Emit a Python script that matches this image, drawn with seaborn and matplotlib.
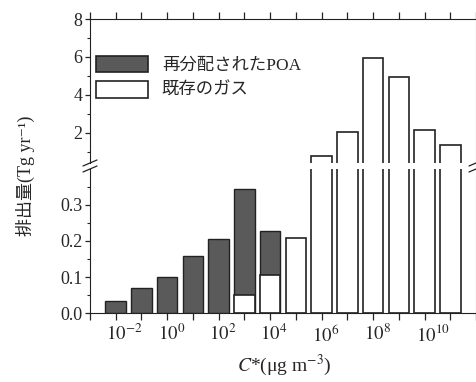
import numpy as np
import pandas as pd
import matplotlib
matplotlib.use("Agg")
import matplotlib.pyplot as plt
import matplotlib.transforms as mtransforms
from matplotlib.patches import Patch
import seaborn as sns

# log10(C*) bin centres and emissions (Tg/yr)
log_cstar = [-2, -1, 0, 1, 2, 3, 4, 5, 6, 7, 8, 9, 10, 11]
gas = [0.0, 0.0, 0.0, 0.0, 0.0, 0.05, 0.106, 0.207, 0.79, 2.05, 5.93, 4.93, 2.12, 1.37]
poa = [0.032, 0.069, 0.101, 0.159, 0.205, 0.294, 0.122, 0, 0, 0, 0, 0, 0, 0]

label_poa = "再分配されたPOA"
label_gas = "既存のガス"
xlabel = r"$C$*(μg m$^{-3}$)"
ylabel = "排出量(Tg yr⁻¹)"

df = pd.DataFrame({"logc": log_cstar, "gas": gas, "poa": poa})
df["total"] = df["gas"] + df["poa"]
dark = df[df["poa"] > 0]
white = df[df["gas"] > 0]

sns.set_style("ticks")
plt.rcParams["font.family"] = ["Liberation Serif", "Noto Sans CJK JP", "DejaVu Serif"]
plt.rcParams["mathtext.fontset"] = "stix"

W, H = 477, 382
fig = plt.figure(figsize=(W / 100, H / 100), dpi=100)
x0, x1 = 90, 476
ax_top = fig.add_axes([x0 / W, 1 - 163 / H, (x1 - x0) / W, 144 / H])
ax_bot = fig.add_axes([x0 / W, 1 - 313 / H, (x1 - x0) / W, 144 / H])

dark_col = "#5a5a5a"
edge_col = "#222222"

for ax in (ax_top, ax_bot):
    sns.barplot(data=dark, x="logc", y="total", native_scale=True, width=0.8,
                color=dark_col, saturation=1, edgecolor=edge_col, linewidth=1.0,
                errorbar=None, ax=ax)
    sns.barplot(data=white, x="logc", y="gas", native_scale=True, width=0.8,
                color="white", saturation=1, edgecolor=edge_col, linewidth=1.2,
                errorbar=None, ax=ax)
    ax.set_xlim(-3, 12)
    ax.set_xlabel("")
    ax.set_ylabel("")
    ax.spines["right"].set_color("#aaaaaa")
    ax.spines["right"].set_linewidth(0.8)
    ax.spines["left"].set_color(edge_col)
    ax.tick_params(axis="y", which="major", direction="out", length=3.5, width=0.9,
                   labelsize=13, pad=2, right=False)
    ax.tick_params(axis="y", which="minor", direction="out", length=2.2, width=0.8, right=False)

xt = list(range(-3, 13))
xt_labels = [r"$10^{%d}$" % v if v % 2 == 0 and -2 <= v <= 10 else "" for v in xt]

# upper panel
ax_top.set_ylim(0.4, 8)
ax_top.set_yticks([2, 4, 6, 8])
ax_top.set_yticks([1, 3, 5, 7], minor=True)
ax_top.spines["bottom"].set_visible(False)
ax_top.spines["top"].set_color(edge_col)
ax_top.set_xticks(xt)
ax_top.tick_params(axis="x", bottom=False, top=True, labelbottom=False, labeltop=False,
                   direction="out", length=5, width=0.9)

# lower panel
ax_bot.set_ylim(0, 0.4)
ax_bot.set_yticks([0.0, 0.1, 0.2, 0.3])
ax_bot.set_yticklabels(["0.0", "0.1", "0.2", "0.3"])
ax_bot.set_yticks([0.05, 0.15, 0.25, 0.35], minor=True)
ax_bot.spines["top"].set_visible(False)
ax_bot.spines["bottom"].set_color(edge_col)
ax_bot.set_xticks(xt)
ax_bot.set_xticklabels(xt_labels)
ax_bot.tick_params(axis="x", bottom=True, top=False, direction="out", length=5,
                   width=0.9, labelsize=13.5, pad=3)

# keep "10" centred on the tick, exponent hanging to the right
for v, lab in zip(xt, ax_bot.get_xticklabels()):
    dx = 4.0 * len(str(v)) / 100
    lab.set_transform(lab.get_transform() + mtransforms.ScaledTranslation(dx, 0, fig.dpi_scale_trans))

# break marks
for xp in (x0, x1):
    for yc in (163, 169):
        fig.add_artist(plt.Line2D([(xp - 7) / W, (xp + 7) / W],
                                  [1 - (yc + 3) / H, 1 - (yc - 3) / H],
                                  color=edge_col, lw=0.9, clip_on=False))

handles = [Patch(facecolor=dark_col, edgecolor=edge_col, linewidth=1.2, label=label_poa),
           Patch(facecolor="white", edgecolor=edge_col, linewidth=1.2, label=label_gas)]
ax_top.legend(handles=handles, loc="upper left", bbox_to_anchor=(0.015, 0.745),
              frameon=False, fontsize=12.5, handlelength=3.0, handleheight=1.1,
              labelspacing=0.4, handletextpad=0.8, borderpad=0, borderaxespad=0)

fig.text(25 / W, 1 - 176 / H, ylabel, rotation=90, ha="center", va="center", fontsize=13)
fig.text(284 / W, 1 - 365 / H, xlabel, ha="center", va="center", fontsize=14)

fig.savefig("out.png", dpi=100)
